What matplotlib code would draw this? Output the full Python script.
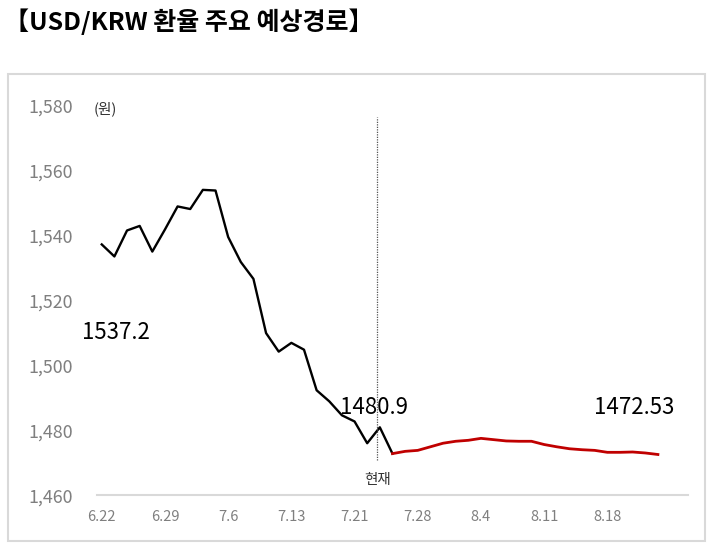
import matplotlib

matplotlib.use("Agg")
import matplotlib.pyplot as plt
from matplotlib.patches import Rectangle

plt.rcParams["font.family"] = ["Noto Sans CJK KR", "DejaVu Sans"]

# data (trading-day index on x)
tick_labels = ["6.22", "6.29", "7.6", "7.13", "7.21", "7.28", "8.4", "8.11", "8.18"]
actual = [
    1537.2, 1533.5, 1541.5, 1542.9, 1535.0, 1541.8, 1548.9, 1548.1, 1554.0, 1553.8,
    1539.5, 1531.8, 1526.6, 1509.9, 1504.2, 1506.9, 1504.8, 1492.3, 1488.9, 1484.6,
    1482.7, 1476.0, 1480.9, 1472.8,
]
forecast = [
    1472.8, 1473.5, 1473.8, 1474.9, 1476.0, 1476.6, 1476.9, 1477.5, 1477.1, 1476.7,
    1476.6, 1476.6, 1475.6, 1474.9, 1474.3, 1474.0, 1473.8, 1473.2, 1473.2, 1473.3,
    1473.0, 1472.53,
]
now_idx = 21.8

fig = plt.figure(figsize=(7.11, 5.49), dpi=100)
ax = fig.add_axes([0.136, 0.098, 0.832, 0.71])

x_act = list(range(len(actual)))
x_fc = list(range(len(actual) - 1, len(actual) - 1 + len(forecast)))
ax.plot(x_act, actual, color="black", linewidth=1.7)
ax.plot(x_fc, forecast, color="#c00000", linewidth=2.0)

ax.vlines(now_idx, 1470.8, 1576.5, colors="#555555", linestyles=(0, (1, 1)), linewidth=0.9)
ax.text(now_idx, 1464.6, "현재", ha="center", va="center", fontsize=10.5, color="#333333")

ax.text(1.1, 1510, "{:.1f}".format(actual[0]), ha="center", va="center", fontsize=16)
ax.text(21.5, 1486.9, "{:.1f}".format(actual[22]), ha="center", va="center", fontsize=16)
ax.text(42.1, 1486.9, "{:.2f}".format(forecast[-1]), ha="center", va="center", fontsize=16)
ax.text(0.25, 1579, "(원)", ha="center", va="center", fontsize=10.5, color="#333333")

ax.set_xlim(-0.4, 46.4)
ax.set_ylim(1460, 1580)
ax.set_xticks(range(0, 5 * len(tick_labels), 5))
ax.set_xticklabels(tick_labels)
ax.set_yticks(range(1460, 1581, 20))
ax.set_yticklabels(["{:,}".format(v) for v in range(1460, 1581, 20)])
ax.tick_params(axis="x", length=0, pad=11, labelsize=10.5, labelcolor="#7f7f7f")
ax.tick_params(axis="y", length=0, pad=17, labelsize=12.8, labelcolor="#7f7f7f")
for side in ["top", "right", "left"]:
    ax.spines[side].set_visible(False)
ax.spines["bottom"].set_color("#d9d9d9")
ax.spines["bottom"].set_linewidth(1.5)

fig.patches.append(Rectangle((8 / 711, 1 - 541 / 549), 697 / 711, 467 / 549,
                             transform=fig.transFigure, fill=False,
                             edgecolor="#d9d9d9", linewidth=1.5))
fig.text(4 / 711, 1 - 22 / 549, "【USD/KRW 환율 주요 예상경로】", ha="left", va="center",
         fontsize=18, fontweight="bold")

fig.savefig("out.png", dpi=100)
